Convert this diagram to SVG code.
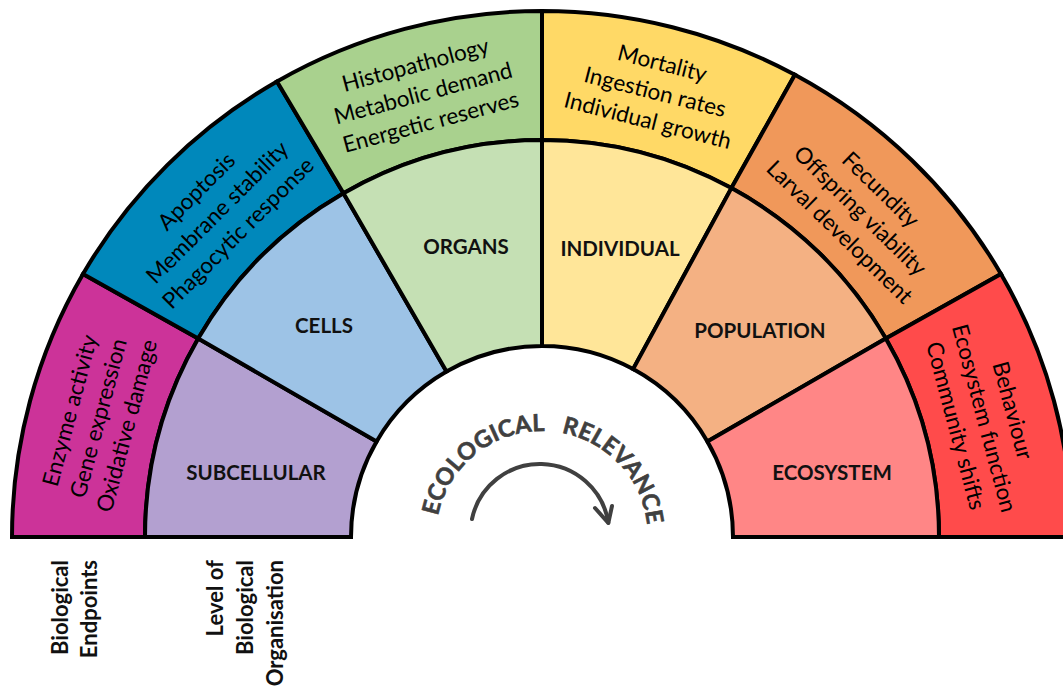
<svg xmlns="http://www.w3.org/2000/svg" width="1063" height="689" viewBox="0 0 1063 689">
  <style>
    .seg { stroke: #000; stroke-width: 4; stroke-linejoin: miter; }
    .ep { font-family: Lato, "Open Sans", sans-serif; font-size: 22.5px; fill: #000; text-anchor: middle; }
    .lvl { font-family: Lato, "Open Sans", sans-serif; font-size: 20.5px; font-weight: bold; fill: #111; text-anchor: middle; }
    .axis { font-family: Lato, "Open Sans", sans-serif; font-size: 22px; font-weight: bold; fill: #111; text-anchor: end; }
    .eco { font-family: Lato, "Open Sans", sans-serif; font-size: 23.5px; font-weight: bold; fill: #404040; stroke: #404040; stroke-width: 0.6px; letter-spacing: 0.2px; }
  </style>
  <defs>
    <path id="ecoArc" d="M436,537 A106,106 0 0 1 648,537"/>
  </defs>
  <rect width="1063" height="689" fill="#fff"/>

  <!-- Outer ring: biological endpoints -->
  <g id="endpoint-molecular">
    <path class="seg" fill="#CC3399" d="M12,537 A530,526 0 0 1 83,274 L198.2,338.5 A397,397 0 0 0 145,537 Z"/>
    <text class="ep" transform="translate(98.6,418.2) rotate(-75)"><tspan x="0" y="-22">Enzyme activity</tspan><tspan x="0" y="7.5">Gene expression</tspan><tspan x="0" y="37">Oxidative damage</tspan></text>
  </g>
  <g id="endpoint-cellular">
    <path class="seg" fill="#0088BB" d="M83,274 A530,526 0 0 1 277,81.5 L343.5,193.2 A397,397 0 0 0 198.2,338.5 Z"/>
    <text class="ep" transform="translate(217.4,212.4) rotate(-45)"><tspan x="0" y="-22">Apoptosis</tspan><tspan x="0" y="7.5">Membrane stability</tspan><tspan x="0" y="37">Phagocytic response</tspan></text>
  </g>
  <g id="endpoint-organ">
    <path class="seg" fill="#A9D18E" d="M277,81.5 A530,526 0 0 1 542,11 L542,140 A397,397 0 0 0 343.5,193.2 Z"/>
    <text class="ep" transform="translate(423.2,93.6) rotate(-15)"><tspan x="0" y="-22">Histopathology</tspan><tspan x="0" y="7.5">Metabolic demand</tspan><tspan x="0" y="37">Energetic reserves</tspan></text>
  </g>
  <g id="endpoint-individual">
    <path class="seg" fill="#FFD966" d="M542,11 A530,526 0 0 1 794.9,74.8 L731.4,188.1 A397,397 0 0 0 542,140 Z"/>
    <text class="ep" transform="translate(655,92.1) rotate(14.25)"><tspan x="0" y="-22">Mortality</tspan><tspan x="0" y="7.5">Ingestion rates</tspan><tspan x="0" y="37">Individual growth</tspan></text>
  </g>
  <g id="endpoint-population">
    <path class="seg" fill="#F0985A" d="M794.9,74.8 A530,526 0 0 1 1001,274 L885.8,338.5 A397,397 0 0 0 731.4,188.1 Z"/>
    <text class="ep" transform="translate(860,211) rotate(44.25)"><tspan x="0" y="-22">Fecundity</tspan><tspan x="0" y="7.5">Offspring viability</tspan><tspan x="0" y="37">Larval development</tspan></text>
  </g>
  <g id="endpoint-ecosystem">
    <path class="seg" fill="#FF4B4B" d="M1001,274 A530,526 0 0 1 1072,537 L939,537 A397,397 0 0 0 885.8,338.5 Z"/>
    <text class="ep" transform="translate(984,418.2) rotate(75)"><tspan x="0" y="-22">Behaviour</tspan><tspan x="0" y="7.5">Ecosystem function</tspan><tspan x="0" y="37">Community shifts</tspan></text>
  </g>

  <!-- Middle ring: level of biological organisation -->
  <g id="level-subcellular">
    <path class="seg" fill="#B3A0D0" d="M145,537 A397,397 0 0 1 198.2,338.5 L376.6,441.5 A191,191 0 0 0 351,537 Z"/>
    <text class="lvl" x="256" y="480">SUBCELLULAR</text>
  </g>
  <g id="level-cells">
    <path class="seg" fill="#9DC3E6" d="M198.2,338.5 A397,397 0 0 1 343.5,193.2 L446.5,371.6 A191,191 0 0 0 376.6,441.5 Z"/>
    <text class="lvl" x="324" y="333">CELLS</text>
  </g>
  <g id="level-organs">
    <path class="seg" fill="#C5E0B4" d="M343.5,193.2 A397,397 0 0 1 542,140 L542,346 A191,191 0 0 0 446.5,371.6 Z"/>
    <text class="lvl" x="466" y="254">ORGANS</text>
  </g>
  <g id="level-individual">
    <path class="seg" fill="#FFE699" d="M542,140 A397,397 0 0 1 731.4,188.1 L633.1,369.1 A191,191 0 0 0 542,346 Z"/>
    <text class="lvl" x="620" y="256">INDIVIDUAL</text>
  </g>
  <g id="level-population">
    <path class="seg" fill="#F4B183" d="M731.4,188.1 A397,397 0 0 1 885.8,338.5 L707.4,441.5 A191,191 0 0 0 633.1,369.1 Z"/>
    <text class="lvl" x="760" y="338">POPULATION</text>
  </g>
  <g id="level-ecosystem">
    <path class="seg" fill="#FF8686" d="M885.8,338.5 A397,397 0 0 1 939,537 L733,537 A191,191 0 0 0 707.4,441.5 Z"/>
    <text class="lvl" x="832" y="480">ECOSYSTEM</text>
  </g>

  <!-- Centre: ecological relevance -->
  <g id="ecological-relevance">
    <text class="eco"><textPath href="#ecoArc" startOffset="21">ECOLOGICAL</textPath></text>
    <text class="eco"><textPath href="#ecoArc" startOffset="186">RELEVANCE</textPath></text>
  </g>
  <g id="connectors">
    <path d="M472,519 A69.3,69.3 0 0 1 608.3,522.7" fill="none" stroke="#404040" stroke-width="4" stroke-linecap="round"/>
    <path d="M595,508 L608.3,523 L612,506" fill="none" stroke="#404040" stroke-width="4" stroke-linecap="round" stroke-linejoin="round"/>
  </g>

  <!-- Axis labels -->
  <g id="label-endpoints">
    <text class="axis" transform="translate(68,560) rotate(-90)"><tspan x="0" y="0">Biological</tspan><tspan x="0" y="29">Endpoints</tspan></text>
  </g>
  <g id="label-level">
    <text class="axis" transform="translate(223,560) rotate(-90)"><tspan x="0" y="0">Level of</tspan><tspan x="0" y="30">Biological</tspan><tspan x="0" y="60">Organisation</tspan></text>
  </g>
</svg>
